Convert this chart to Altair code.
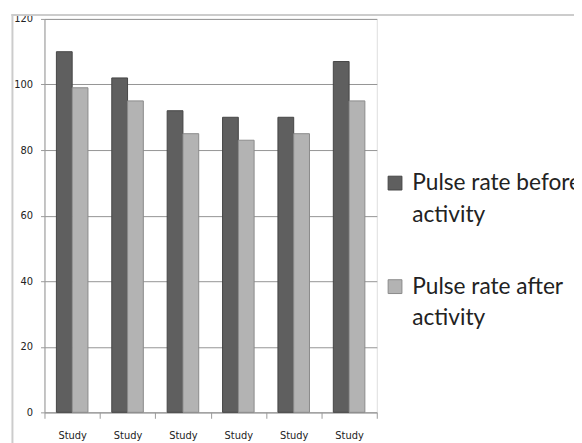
import altair as alt
import pandas as pd

studies = ["Study 1", "Study 2", "Study 3", "Study 4", "Study 5", "Study 6"]
series = ["Pulse rate before activity", "Pulse rate after activity"]
before = [110, 102, 92, 90, 90, 107]
after = [99, 95, 85, 83, 85, 95]
y_ticks = [0, 20, 40, 60, 80, 100, 120]

rows = []
for i, s in enumerate(studies):
    rows.append({"study": s, "series": series[0], "value": before[i]})
    rows.append({"study": s, "series": series[1], "value": after[i]})
df = pd.DataFrame(rows)

W, H = 337, 399

bars = alt.Chart(df).mark_bar(strokeWidth=1).encode(
    x=alt.X("study:N", sort=studies,
            scale=alt.Scale(paddingInner=0, paddingOuter=0),
            axis=alt.Axis(title=None, labelExpr="datum.label ? 'Study' : ''", tickBand="extent",
                          labelAngle=0,
                          labelFont="DejaVu Sans", labelFontSize=10, labelColor="#222222",
                          labelPadding=13, tickSize=6, tickColor="#999999",
                          domainColor="#999999", grid=False)),
    xOffset=alt.XOffset("series:N", sort=series,
                        scale=alt.Scale(paddingInner=0, paddingOuter=0.755)),
    y=alt.Y("value:Q", scale=alt.Scale(domain=[0, 120], nice=False),
            axis=alt.Axis(title=None, values=y_ticks, labelFont="DejaVu Sans", labelFontSize=10,
                          labelColor="#222222", labelPadding=8, tickSize=4, tickColor="#999999",
                          domainColor="#999999", gridColor="#939393", gridWidth=1)),
    color=alt.Color("series:N", sort=series,
                    scale=alt.Scale(domain=series, range=["#5f5f5f", "#b3b3b3"]),
                    legend=alt.Legend(title=None, orient="none", legendX=344, legendY=155,
                                      padding=0, symbolType="square", symbolSize=196,
                                      symbolStrokeWidth=1, symbolStrokeColor="#444444",
                                      labelFont="Lato", labelFontSize=23, labelColor="#222222",
                                      labelOffset=6, labelLimit=400, rowPadding=49,
                                      labelExpr="[replace(datum.label, ' activity', ''), 'activity']")),
    stroke=alt.Stroke("series:N", scale=alt.Scale(domain=series, range=["#454545", "#8a8a8a"]),
                      legend=None),
)

frame_data = alt.Data(values=[{"k": 1}])
left_frame = alt.Chart(frame_data).mark_rule(color="#cccccc", strokeWidth=2).encode(
    x=alt.value(-32.5), y=alt.value(-5), y2=alt.value(440))
top_frame = alt.Chart(frame_data).mark_rule(color="#cccccc", strokeWidth=2).encode(
    x=alt.value(-33.5), x2=alt.value(545), y=alt.value(-4))

chart = alt.layer(bars, left_frame, top_frame).properties(
    width=W, height=H,
    autosize=alt.AutoSizeParams(type="none"),
    padding={"left": 37, "top": 8, "right": 200, "bottom": 28},
).configure_view(fill="#e6e6e6", stroke=None).configure(
    background="white",
    style={"guide-label": {"lineHeight": 32}},
)

chart.save("out.html", embed_options={"renderer": "svg", "actions": False})
